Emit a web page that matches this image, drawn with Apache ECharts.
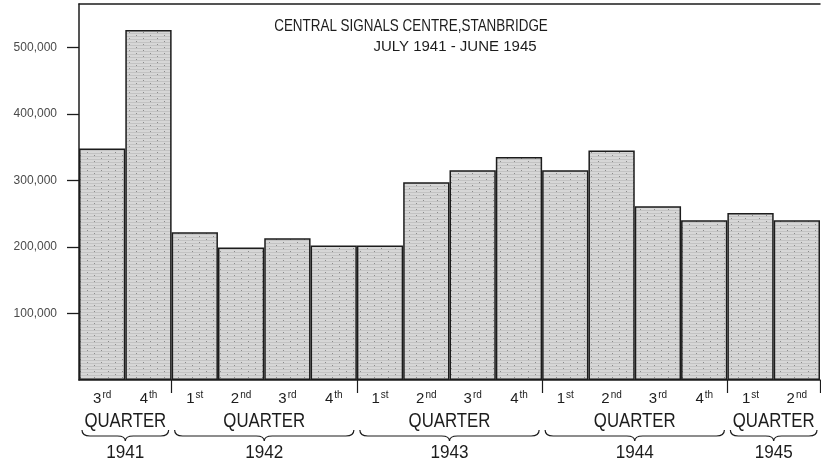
<!DOCTYPE html>
<html>
<head>
<meta charset="utf-8">
<script src="https://cdn.jsdelivr.net/npm/echarts@6/dist/echarts.min.js"></script>
<style>
  html, body { margin: 0; padding: 0; background: #fff; }
  #chart { width: 821px; height: 464px; }
</style>
</head>
<body>
<div id="chart"></div>
<script>
// quarters July 1941 - June 1945
var categories = ['1941-Q3', '1941-Q4', '1942-Q1', '1942-Q2', '1942-Q3', '1942-Q4',
  '1943-Q1', '1943-Q2', '1943-Q3', '1943-Q4', '1944-Q1', '1944-Q2', '1944-Q3', '1944-Q4',
  '1945-Q1', '1945-Q2'];
var quarterNum = ['3', '4', '1', '2', '3', '4', '1', '2', '3', '4', '1', '2', '3', '4', '1', '2'];
var quarterSuffix = ['rd', 'th', 'st', 'nd', 'rd', 'th', 'st', 'nd', 'rd', 'th', 'st', 'nd', 'rd', 'th', 'st', 'nd'];
var signals = [348000, 526000, 222000, 199000, 213000, 202000, 202000, 297000,
  315000, 335000, 315000, 345000, 261000, 240000, 251000, 240000];
// year groups (first and last category index)
var years = ['1941', '1942', '1943', '1944', '1945'];
var yearStart = [0, 2, 6, 10, 14];
var yearEnd = [1, 5, 9, 13, 15];
var yTicks = [100000, 200000, 300000, 400000, 500000];

var ink = '#1c1c1c';
var labelFont = '"Liberation Sans", Arial, sans-serif';

// grey stippled fill, a bit like the printed halftone
function makeTexture() {
  var c = document.createElement('canvas');
  c.width = 14;
  c.height = 6;
  var ctx = c.getContext('2d');
  ctx.fillStyle = '#d7d7d7';
  ctx.fillRect(0, 0, 14, 6);
  ctx.fillStyle = '#c3c3c3';
  ctx.fillRect(0, 0, 14, 1);
  ctx.fillRect(0, 3, 14, 1);
  ctx.fillStyle = '#8a8a8a';
  ctx.fillRect(3, 2, 1, 1);
  ctx.fillRect(10, 5, 1, 1);
  return c;
}

var groupData = years.map(function (y, i) {
  return [yearStart[i], yearEnd[i]];
});

var chart = echarts.init(document.getElementById('chart'));

chart.setOption({
  backgroundColor: '#fff',
  animation: false,
  grid: {
    left: 79,
    right: 1,
    top: 4,
    bottom: 84
  },
  graphic: [
    {
      type: 'text',
      x: 411,
      y: 26,
      scaleX: 0.79,
      style: {
        text: 'CENTRAL SIGNALS CENTRE,STANBRIDGE',
        fontSize: 17,
        fontFamily: labelFont,
        fill: ink,
        align: 'center',
        verticalAlign: 'middle'
      }
    },
    {
      type: 'text',
      x: 455,
      y: 47,
      scaleX: 1.0,
      style: {
        text: 'JULY 1941 - JUNE 1945',
        fontSize: 15,
        fontFamily: labelFont,
        fill: ink,
        align: 'center',
        verticalAlign: 'middle'
      }
    }
  ],
  xAxis: [
    {
      type: 'category',
      data: categories,
      position: 'bottom',
      axisLine: { lineStyle: { color: ink, width: 1.5 } },
      axisTick: {
        show: true,
        length: 13,
        lineStyle: { color: ink, width: 1.2 },
        interval: function (index) {
          return index === 2 || index === 6 || index === 10 || index === 14;
        }
      },
      axisLabel: {
        interval: 0,
        margin: 10,
        color: ink,
        fontSize: 15,
        fontFamily: labelFont,
        formatter: function (v, i) {
          return quarterNum[i] + '{sup|' + quarterSuffix[i] + '}';
        },
        rich: {
          sup: {
            fontSize: 10,
            fontFamily: labelFont,
            color: ink,
            verticalAlign: 'top',
            padding: [0, 0, 7, 1]
          }
        }
      }
    },
    {
      type: 'category',
      data: categories,
      position: 'top',
      axisLine: { show: true, lineStyle: { color: ink, width: 1.5 } },
      axisTick: { show: false },
      axisLabel: { show: false }
    }
  ],
  yAxis: {
    type: 'value',
    min: 0,
    max: 565000,
    interval: 100000,
    splitLine: { show: false },
    axisLine: { show: true, lineStyle: { color: ink, width: 1.5 } },
    axisTick: {
      show: true,
      length: 12,
      customValues: yTicks,
      lineStyle: { color: ink, width: 1.3 }
    },
    axisLabel: {
      customValues: yTicks,
      margin: 22,
      color: '#4a4a4a',
      fontSize: 12,
      fontFamily: labelFont,
      formatter: function (v) {
        return echarts.format.addCommas(v);
      }
    }
  },
  series: [
    {
      type: 'bar',
      data: signals,
      barCategoryGap: '0%',
      itemStyle: {
        color: { image: makeTexture(), repeat: 'repeat' },
        borderColor: ink,
        borderWidth: 1.5
      }
    },
    {
      // QUARTER / brace / year under each group of quarters
      type: 'custom',
      data: groupData,
      clip: false,
      silent: true,
      encode: { x: [0, 1] },
      renderItem: function (params, api) {
        var bw = api.size([1, 0])[0];
        var p0 = api.coord([api.value(0), 0]);
        var p1 = api.coord([api.value(1), 0]);
        var base = p0[1];
        var x0 = p0[0] - bw / 2 + 3;
        var x1 = p1[0] + bw / 2 - 3;
        var xc = (x0 + x1) / 2;
        var y0 = base + 50, ym = base + 56, yt = base + 61;
        var d = 'M' + x0 + ',' + y0 +
          ' Q' + x0 + ',' + ym + ' ' + (x0 + 8) + ',' + ym +
          ' L' + (xc - 8) + ',' + ym +
          ' Q' + xc + ',' + ym + ' ' + xc + ',' + yt +
          ' Q' + xc + ',' + ym + ' ' + (xc + 8) + ',' + ym +
          ' L' + (x1 - 8) + ',' + ym +
          ' Q' + x1 + ',' + ym + ' ' + x1 + ',' + y0;
        return {
          type: 'group',
          children: [
            {
              type: 'text',
              x: xc,
              y: base + 41,
              scaleX: 0.8,
              style: {
                text: 'QUARTER',
                fontSize: 21,
                fontFamily: labelFont,
                fill: ink,
                align: 'center',
                verticalAlign: 'middle'
              }
            },
            {
              type: 'path',
              shape: { pathData: d },
              style: { fill: 'none', stroke: ink, lineWidth: 1.2 }
            },
            {
              type: 'text',
              x: xc,
              y: base + 73,
              scaleX: 0.9,
              style: {
                text: years[params.dataIndex],
                fontSize: 19,
                fontFamily: labelFont,
                fill: ink,
                align: 'center',
                verticalAlign: 'middle'
              }
            }
          ]
        };
      }
    }
  ]
});
</script>
</body>
</html>
